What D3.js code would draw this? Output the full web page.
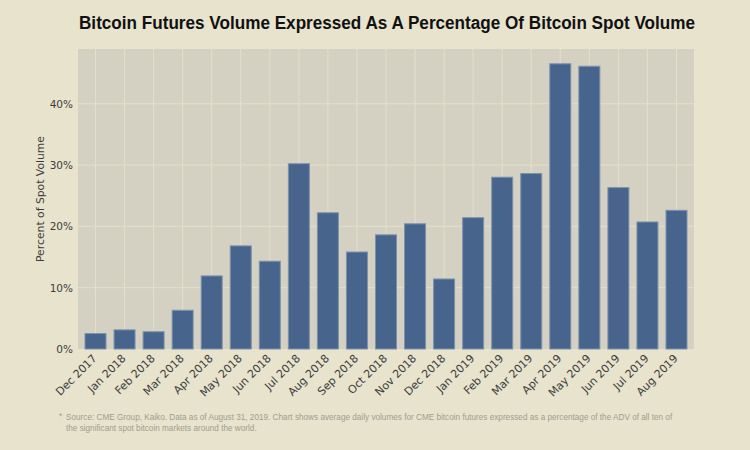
<!DOCTYPE html>
<html>
<head>
<meta charset="utf-8">
<script src="https://cdn.jsdelivr.net/npm/d3@7"></script>
<style>
  html, body { margin: 0; padding: 0; background: #e7e3cd; }
  svg { display: block; }
</style>
</head>
<body>
<svg id="chart" width="750" height="450"></svg>
<script>
const categories = ["Dec 2017","Jan 2018","Feb 2018","Mar 2018","Apr 2018","May 2018","Jun 2018","Jul 2018","Aug 2018","Sep 2018","Oct 2018","Nov 2018","Dec 2018","Jan 2019","Feb 2019","Mar 2019","Apr 2019","May 2019","Jun 2019","Jul 2019","Aug 2019"];
const values = [2.6, 3.2, 2.9, 6.4, 12.0, 16.9, 14.4, 30.3, 22.3, 15.9, 18.7, 20.5, 11.5, 21.5, 28.1, 28.7, 46.6, 46.2, 26.4, 20.8, 22.7];
const yTicks = [0, 10, 20, 30, 40];
const titleText = "Bitcoin Futures Volume Expressed As A Percentage Of Bitcoin Spot Volume";
const yLabel = "Percent of Spot Volume";
const footnoteLines = [
  "Source: CME Group, Kaiko. Data as of August 31, 2019. Chart shows average daily volumes for CME bitcoin futures expressed as a percentage of the ADV of all ten of",
  "the significant spot bitcoin markets around the world."
];

const svg = d3.select("#chart");
const plot = { left: 78, right: 694, top: 49, bottom: 349 };

svg.append("rect").attr("width", 750).attr("height", 450).attr("fill", "#e7e3cd");

const x = d3.scaleBand().domain(categories).range([plot.left, plot.right])
  .paddingInner(0.243).paddingOuter(0.224);
const y = d3.scaleLinear().domain([0, d3.max(values) * 1.05]).range([plot.bottom, plot.top]);

// plot background
svg.append("rect")
  .attr("x", plot.left).attr("y", plot.top)
  .attr("width", plot.right - plot.left).attr("height", plot.bottom - plot.top)
  .attr("fill", "#d4d1c3");

// grid
const grid = svg.append("g").attr("stroke", "#e3dfcb").attr("stroke-width", 1);
grid.selectAll("line.v").data(categories).join("line")
  .attr("class", "v")
  .attr("x1", d => x(d) + x.bandwidth() / 2).attr("x2", d => x(d) + x.bandwidth() / 2)
  .attr("y1", plot.top).attr("y2", plot.bottom);
grid.selectAll("line.h").data(yTicks.filter(t => t > 0)).join("line")
  .attr("class", "h")
  .attr("x1", plot.left).attr("x2", plot.right)
  .attr("y1", d => y(d)).attr("y2", d => y(d));

// bars
svg.append("g").selectAll("rect").data(values).join("rect")
  .attr("x", (d, i) => x(categories[i]) + 0.5)
  .attr("width", x.bandwidth() - 1)
  .attr("y", d => y(d) + 0.5)
  .attr("height", d => y(0) - y(d) - 0.5)
  .attr("fill", "#46648c")
  .attr("stroke", "#7d91ad")
  .attr("stroke-width", 1);

// y axis
const yAxis = d3.axisLeft(y).tickValues(yTicks).tickFormat(d => d + "%").tickSize(0).tickPadding(5);
const ya = svg.append("g").attr("transform", `translate(${plot.left},0)`).call(yAxis);
ya.select(".domain").remove();
ya.selectAll("text")
  .attr("font-family", "DejaVu Sans, sans-serif")
  .attr("font-size", "10.5px")
  .attr("fill", "#3d3d3d");

// x axis
const xAxis = d3.axisBottom(x).tickSize(0).tickPadding(0);
const xa = svg.append("g").attr("transform", `translate(0,${plot.bottom})`).call(xAxis);
xa.select(".domain").remove();
xa.selectAll("text")
  .attr("font-family", "DejaVu Sans, sans-serif")
  .attr("font-size", "11px")
  .attr("fill", "#3d3d3d")
  .attr("text-anchor", "end")
  .attr("dy", "0")
  .attr("transform", "translate(2,10) rotate(-45)");

// y label
svg.append("text")
  .attr("transform", `translate(44,${(plot.top + plot.bottom) / 2}) rotate(-90)`)
  .attr("text-anchor", "middle")
  .attr("font-family", "DejaVu Sans, sans-serif")
  .attr("font-size", "10.8px")
  .attr("fill", "#3d3d3d")
  .text(yLabel);

// title
svg.append("text")
  .attr("x", (plot.left + plot.right) / 2 + 1)
  .attr("y", 29)
  .attr("text-anchor", "middle")
  .attr("font-family", "Liberation Sans, Arial, sans-serif")
  .attr("font-weight", "bold")
  .attr("font-size", "18px")
  .attr("fill", "#111")
  .attr("textLength", 616)
  .attr("lengthAdjust", "spacingAndGlyphs")
  .text(titleText);

// footnote
const fn = svg.append("g")
  .attr("font-family", "Liberation Sans, Arial, sans-serif")
  .attr("font-size", "8.2px")
  .attr("fill", "#a09d8c");
fn.append("text").attr("x", 59).attr("y", 419).text("*");
fn.selectAll("text.l").data(footnoteLines).join("text")
  .attr("class", "l")
  .attr("x", 66)
  .attr("y", (d, i) => 420 + i * 10.5)
  .text(d => d);
</script>
</body>
</html>
